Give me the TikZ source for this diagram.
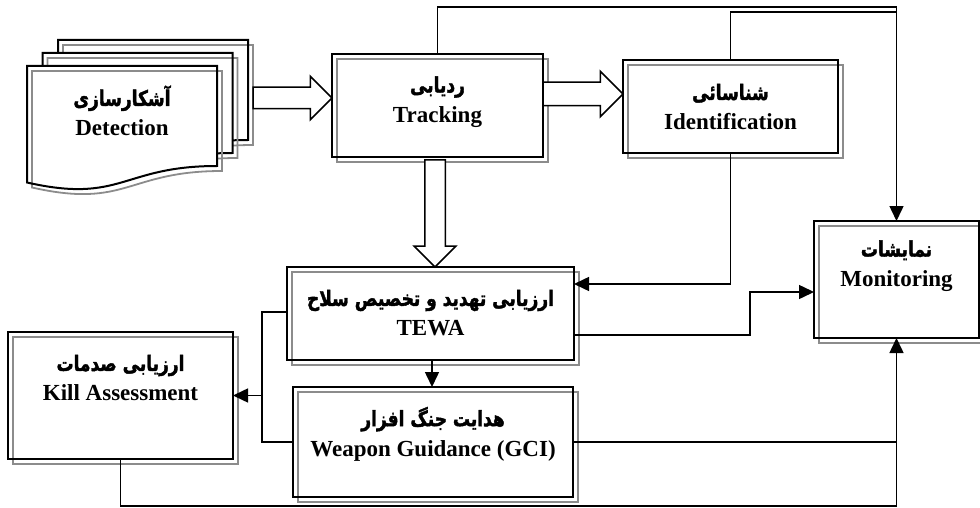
\documentclass[tikz,border=0pt]{standalone}
\usepackage{fontspec}
\usepackage{graphicx}
\setmainfont{Liberation Serif}
\newfontfamily\fafont[Script=Arabic,BoldFeatures={FakeBold=2}]{DejaVu Sans}
\TeXXeTstate=1
\usetikzlibrary{positioning,arrows.meta,shapes.arrows,backgrounds,calc}

\newcommand{\fa}[1]{\scalebox{1}[1.25]{\fafont\fontsize{17}{30}\selectfont\beginR #1\endR}}
\newcommand{\shadowof}[1]{\draw[shadowline] ([shift={(5,5)}]#1.south west) rectangle ([shift={(5,5)}]#1.north east);}

\tikzset{
  boxline/.style={draw, line width=2pt},
  shadowline/.style={draw=black!45, line width=1.8pt},
  blk/.style={boxline, inner sep=0pt, outer sep=0pt},
  txt/.style={align=center, inner sep=0pt, font=\bfseries\fontsize{23}{30}\selectfont},
  conn/.style={line width=1.5pt},
  bigarrow/.style={single arrow, draw, fill=white, line width=1.5pt, inner xsep=0pt,
    inner ysep=10pt, outer sep=0pt, minimum width=0pt, single arrow head extend=11pt}
}

\begin{document}
\begin{tikzpicture}[x=1pt, y=-1pt, >={Triangle[length=15pt,width=14pt]}]
\useasboundingbox (0,0) rectangle (980,508);
% stacked detection sheets, back to front
\foreach \dx/\dy in {31/-26,15.5/-13,0/0}{
  \begin{scope}[shift={(\dx,\dy)}]
    \fill[white] (27,66) -- (217,66) -- (217,166) .. controls (122,166) and (122,204) .. (27,182.5) -- cycle;
    \draw[shadowline] (32,71) -- (222,71) -- (222,171) .. controls (127,171) and (127,209) .. (32,187.5) -- cycle;
    \draw[boxline] (27,66) -- (217,66) -- (217,166) .. controls (122,166) and (122,204) .. (27,182.5) -- cycle;
  \end{scope}
}
\node[inner sep=0pt, minimum width=190pt, minimum height=117pt] (det) at (122,124.5) {};
\node[txt] (det-t) at ([yshift=-45pt]det.north) {\fa{آشکارسازی}\\Detection};

% boxes
\node[blk, minimum width=211pt, minimum height=103pt] (trk) at (437.5,105.5) {};
\node[blk, minimum width=215pt, minimum height=93pt] (idn) at (730.5,106.5) {};
\node[blk, minimum width=165pt, minimum height=117pt] (mon) at (896.5,279.5) {};
\node[blk, minimum width=287pt, minimum height=93pt] (tewa) at (430.5,313.5) {};
\node[blk, minimum width=280pt, minimum height=110pt] (wpn) at (433,442) {};
\node[blk, minimum width=225pt, minimum height=127pt] (kill) at (120.5,395.5) {};

\node[txt] (trk-t) at ([yshift=-48pt]trk.north) {\fa{ردیابی}\\Tracking};
\node[txt] (idn-t) at ([yshift=-47pt]idn.north) {\fa{شناسائی}\\Identification};
\node[txt] (mon-t) at ([yshift=-45pt]mon.north) {\fa{نمایشات}\\Monitoring};
\node[txt] (tewa-t) at ([yshift=-46pt]tewa.north) {\fa{ارزیابی تهدید و تخصیص سلاح}\\TEWA};
\node[txt] (wpn-t) at ([yshift=-47pt]wpn.north) {\fa{هدایت جنگ افزار}\\Weapon Guidance (GCI)};
\node[txt] (kill-t) at ([yshift=-46pt]kill.north) {\fa{ارزیابی صدمات}\\Kill Assessment};

\begin{scope}[on background layer]
  \foreach \n in {trk,idn,mon,tewa,wpn,kill}{\shadowof{\n}}
\end{scope}

% block arrows
\node[bigarrow, minimum height=79pt, anchor=tip] (a1) at ([yshift=7.5pt]trk.west) {};
\node[bigarrow, minimum height=80pt, anchor=tip, inner ysep=11pt] (a2) at ([yshift=12.5pt]idn.west) {};
\node[bigarrow, rotate=-90, minimum height=107pt, anchor=tip, inner ysep=9.5pt, single arrow head extend=10.5pt] (a3) at ([xshift=4.5pt]tewa.north) {};

% connectors
\coordinate (ytop) at (0,7);
\coordinate (ytop2) at (0,12);
\coordinate (ybot) at (0,506);
\coordinate (xmid) at (750,0);
\coordinate (xleft) at (262,0);
\coordinate (mon-in) at ([yshift=-12.5pt]mon.west);
\coordinate (tewa-out) at ([yshift=-21.5pt]tewa.east);
\draw[conn,->] (trk.north) |- (ytop -| mon.north) -- (mon.north);
\draw[conn] (idn.north) |- (ytop2 -| mon.north);
\draw[conn,->] (idn.south) |- ([yshift=29.5pt]tewa.east);
\draw[conn,->] (tewa-out) -| (xmid |- mon-in) -- (mon-in);
\draw[conn,->] ([xshift=1.5pt]tewa.south) -- ([xshift=1.5pt]tewa.south |- wpn.north);
\draw[conn] ([yshift=1.5pt]tewa.west) -| (xleft |- wpn.west) -- (wpn.west);
\draw[conn,->] (xleft |- kill.east) -- (kill.east);
\draw[conn] (wpn.east) -- (wpn.east -| mon.south);
\draw[conn,->] (kill.south) |- (ybot -| mon.south) -- (mon.south);
\end{tikzpicture}
\end{document}
